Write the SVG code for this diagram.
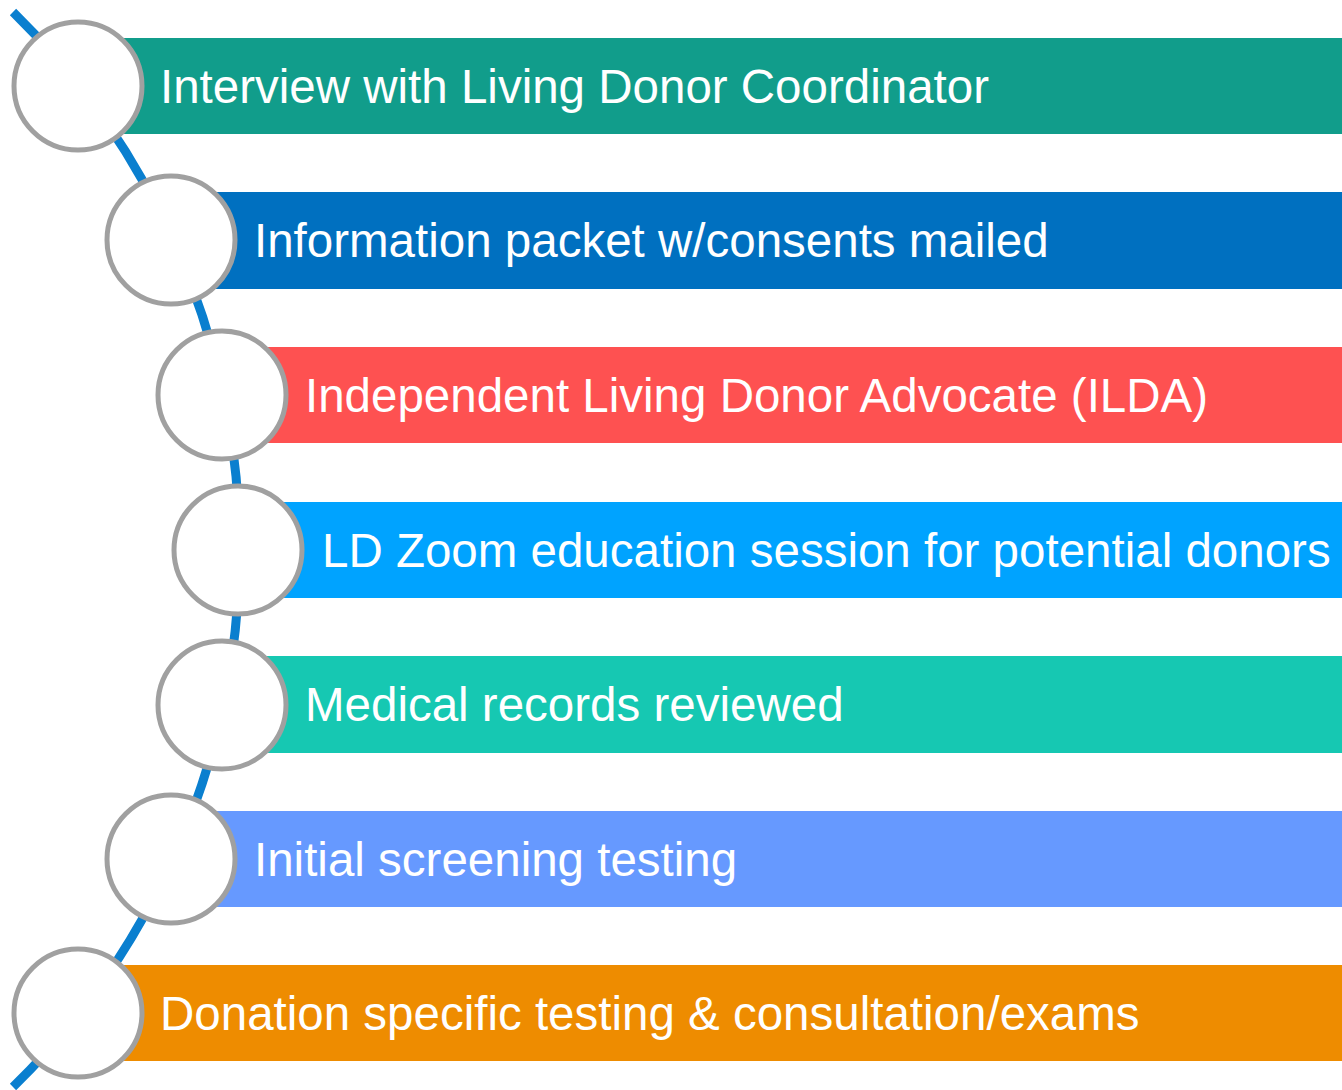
<svg xmlns="http://www.w3.org/2000/svg" width="1342" height="1090" viewBox="0 0 1342 1090">
<style>
.bar{stroke:none}
.lbl{fill:#ffffff;font-family:"Liberation Sans",Arial,sans-serif;font-size:47.5px}
.dot{fill:#ffffff;stroke:#a0a0a0;stroke-width:5}
</style>
<rect width="1342" height="1090" fill="#ffffff"/>
<g id="connectors">
<path d="M 13 12 A 751 751 0 0 1 13 1087" fill="none" stroke="#0a7fcf" stroke-width="9"/>
</g>
<g id="step1">
<rect class="bar" x="78" y="38" width="1264" height="96" fill="#119d8b"/>
<circle class="dot" cx="78" cy="86" r="64"/>
<text class="lbl" x="160" y="103">Interview with Living Donor Coordinator</text>
</g>
<g id="step2">
<rect class="bar" x="171" y="192" width="1171" height="97" fill="#0070c0"/>
<circle class="dot" cx="171" cy="240" r="64"/>
<text class="lbl" x="254" y="257">Information packet w/consents mailed</text>
</g>
<g id="step3">
<rect class="bar" x="222" y="347" width="1120" height="96" fill="#fe5151"/>
<circle class="dot" cx="222" cy="395" r="64"/>
<text class="lbl" x="305" y="412">Independent Living Donor Advocate (ILDA)</text>
</g>
<g id="step4">
<rect class="bar" x="238" y="502" width="1104" height="96" fill="#00a3ff"/>
<circle class="dot" cx="238" cy="550" r="64"/>
<text class="lbl" x="322" y="567">LD Zoom education session for potential donors</text>
</g>
<g id="step5">
<rect class="bar" x="222" y="656" width="1120" height="97" fill="#16c8b2"/>
<circle class="dot" cx="222" cy="705" r="64"/>
<text class="lbl" x="305" y="721">Medical records reviewed</text>
</g>
<g id="step6">
<rect class="bar" x="171" y="811" width="1171" height="96" fill="#6699ff"/>
<circle class="dot" cx="171" cy="859" r="64"/>
<text class="lbl" x="254" y="876">Initial screening testing</text>
</g>
<g id="step7">
<rect class="bar" x="78" y="965" width="1264" height="96" fill="#ee8c00"/>
<circle class="dot" cx="78" cy="1013" r="64"/>
<text class="lbl" x="160" y="1030">Donation specific testing &amp; consultation/exams</text>
</g>
</svg>
